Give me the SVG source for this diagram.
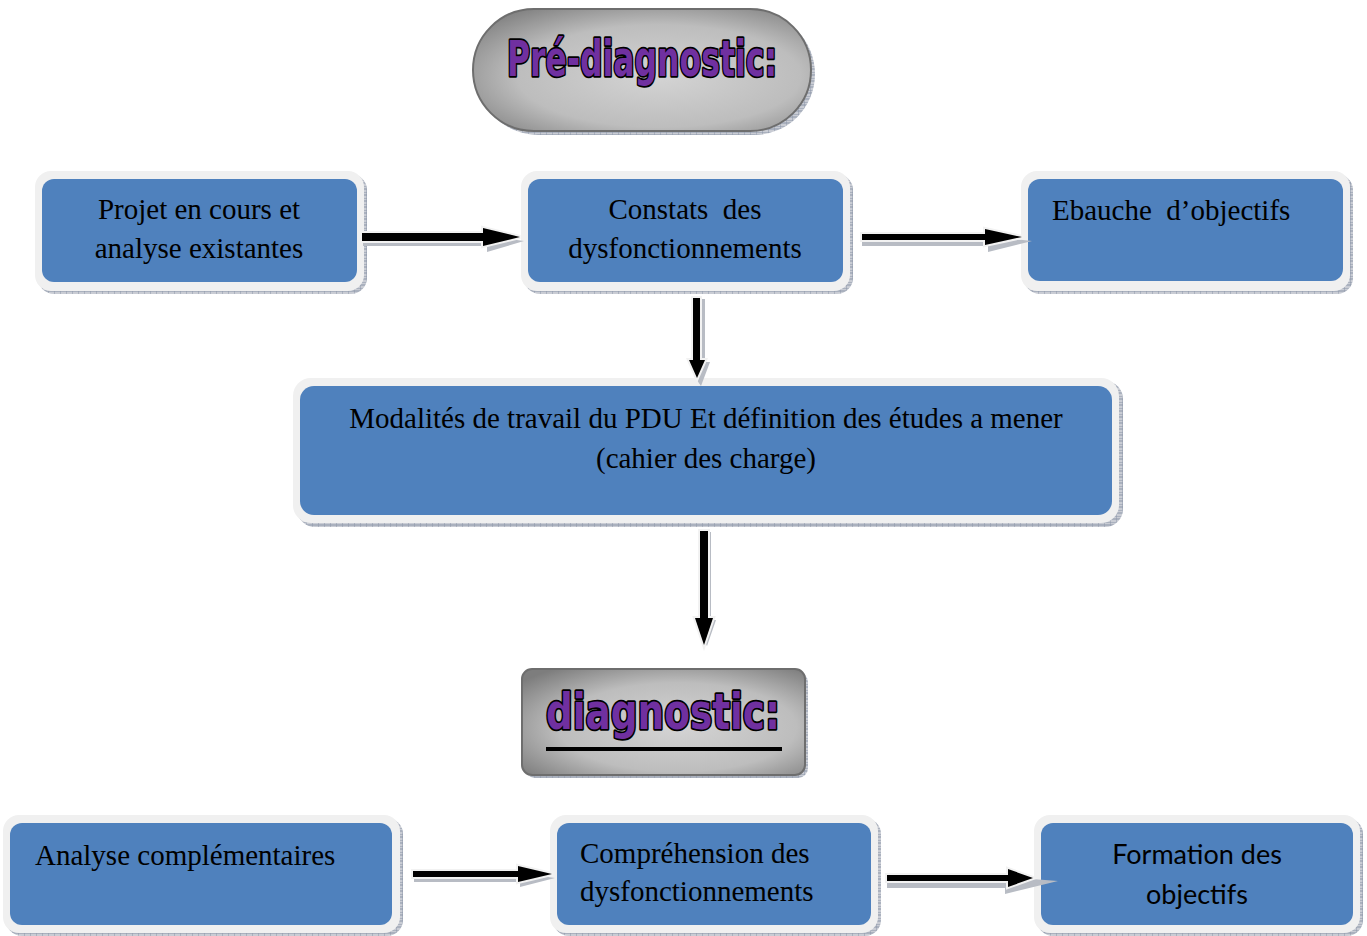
<svg xmlns="http://www.w3.org/2000/svg" width="1367" height="936" viewBox="0 0 1367 936">
<defs>
<pattern id="hatch" width="6" height="6" patternUnits="userSpaceOnUse">
<rect width="6" height="6" fill="#c9ccd4"/>
<path d="M0 0H6M0 3H6M0 0V6" stroke="#8c96a8" stroke-width="1"/>
</pattern>
<radialGradient id="pill2" cx="0.55" cy="0.55" r="0.7">
<stop offset="0" stop-color="#d4d4d4"/>
<stop offset="0.6" stop-color="#bdbdbd"/>
<stop offset="1" stop-color="#7d7d7d"/>
</radialGradient>
</defs>
<style>
.sh{fill:url(#hatch)}
.outer{fill:#f0f0f0}
.inner{fill:#4f81bd}
.t{font-family:"Liberation Serif","Times New Roman",serif;font-size:29px;fill:#000}
.c{font-family:Lato,"Open Sans","Liberation Sans",sans-serif;font-size:27px;fill:#000}
.title{font-family:"Liberation Sans Narrow","DejaVu Sans Condensed","Liberation Sans",sans-serif;font-weight:bold;fill:#7030a0;stroke:#000;stroke-width:3.5;paint-order:stroke;stroke-linejoin:round}
.ash{fill:#b8bcc4}
.aw{fill:#000;stroke:#f2f2f2;stroke-width:4;paint-order:stroke;stroke-linejoin:miter}
</style>
<rect width="1367" height="936" fill="#fff"/>

<g id="title-prediagnostic">
<rect x="477" y="13" width="338" height="122" rx="61" class="sh"/>
<rect x="473" y="9" width="338" height="122" rx="61" fill="url(#pill2)" stroke="#6e6e6e" stroke-width="2"/>
<text x="642" y="76" text-anchor="middle" class="title" font-size="50" textLength="270" lengthAdjust="spacingAndGlyphs">Pré-diagnostic:</text>
</g>

<g id="node-projet">
<rect x="38" y="174" width="329" height="120" rx="16" class="sh"/>
<rect x="35" y="171" width="329" height="120" rx="16" class="outer"/>
<rect x="42" y="179" width="315" height="103" rx="12" class="inner"/>
<text x="199" y="219" text-anchor="middle" class="t">Projet en cours et</text>
<text x="199" y="258" text-anchor="middle" class="t">analyse existantes</text>
</g>

<g id="node-constats">
<rect x="524" y="174" width="329" height="120" rx="16" class="sh"/>
<rect x="521" y="171" width="329" height="120" rx="16" class="outer"/>
<rect x="528" y="179" width="315" height="103" rx="12" class="inner"/>
<text x="685" y="219" text-anchor="middle" class="t" xml:space="preserve">Constats  des</text>
<text x="685" y="258" text-anchor="middle" class="t">dysfonctionnements</text>
</g>

<g id="node-ebauche">
<rect x="1024" y="174" width="329" height="120" rx="16" class="sh"/>
<rect x="1021" y="171" width="329" height="120" rx="16" class="outer"/>
<rect x="1028" y="179" width="315" height="102" rx="12" class="inner"/>
<text x="1052" y="220" class="t" xml:space="preserve">Ebauche  d’objectifs</text>
</g>

<g id="node-modalites">
<rect x="297" y="381" width="826" height="146" rx="18" class="sh"/>
<rect x="293" y="378" width="826" height="145" rx="18" class="outer"/>
<rect x="300" y="386" width="812" height="129" rx="14" class="inner"/>
<text x="706" y="428" text-anchor="middle" class="t">Modalités de travail du PDU Et définition des études a mener</text>
<text x="706" y="468" text-anchor="middle" class="t">(cahier des charge)</text>
</g>

<g id="title-diagnostic">
<rect x="525" y="672" width="283" height="106" rx="10" class="sh"/>
<rect x="522" y="669" width="283" height="106" rx="10" fill="url(#pill2)" stroke="#6e6e6e" stroke-width="2"/>
<text x="663" y="729" text-anchor="middle" class="title" font-size="50" textLength="234" lengthAdjust="spacingAndGlyphs">diagnostic:</text>
<rect x="546" y="747" width="236" height="4" fill="#000"/>
</g>

<g id="node-analyse">
<rect x="6" y="818" width="397" height="118" rx="16" class="sh"/>
<rect x="3" y="815" width="397" height="118" rx="16" class="outer"/>
<rect x="10" y="823" width="382" height="102" rx="12" class="inner"/>
<text x="35" y="865" class="t">Analyse complémentaires</text>
</g>

<g id="node-comprehension">
<rect x="553" y="818" width="328" height="118" rx="16" class="sh"/>
<rect x="550" y="815" width="328" height="118" rx="16" class="outer"/>
<rect x="557" y="823" width="314" height="102" rx="12" class="inner"/>
<text x="580" y="863" class="t">Compréhension des</text>
<text x="580" y="901" class="t">dysfonctionnements</text>
</g>

<g id="node-formation">
<rect x="1037" y="818" width="326" height="118" rx="16" class="sh"/>
<rect x="1034" y="815" width="326" height="118" rx="16" class="outer"/>
<rect x="1041" y="823" width="312" height="102" rx="12" class="inner"/>
<text x="1197" y="864" text-anchor="middle" class="c">Formation des</text>
<text x="1197" y="904" text-anchor="middle" class="c">objectifs</text>
</g>

<g id="connectors">
<path class="ash" d="M363 241H487V236L524 241L487 252V246H363Z"/>
<path class="aw" d="M362 233H483V228L520 237L483 246V241H362Z"/>
<path class="ash" d="M862 241H988V236L1032 241L988 252V246H862Z"/>
<path class="aw" d="M862 234H985V229L1022 237L985 245V240H862Z"/>
<path class="ash" d="M698 299H705V362H710L701 386L694 376V362H698Z"/>
<path class="aw" d="M693 298H700V360H705L697 378L689 360H693Z"/>
<path class="ash" d="M704 532H711V620H716L707 646L700 634V620H704Z"/>
<path class="aw" d="M700 531H708V618H713L704 645L695 618H700Z"/>
<path class="ash" d="M414 877H520V873L555 878L520 887V882H414Z"/>
<path class="aw" d="M413 871H518V866L552 874L518 882V877H413Z"/>
<path class="ash" d="M887 882H1005V877L1058 881L1005 894V888H887Z"/>
<path class="aw" d="M887 875H1008V869L1033 878L1008 887V881H887Z"/>
</g>
</svg>
